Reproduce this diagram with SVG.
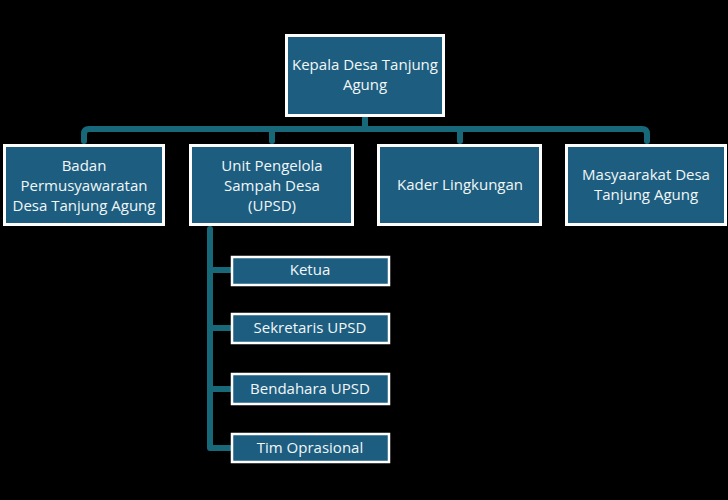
<svg xmlns="http://www.w3.org/2000/svg" width="728" height="500" viewBox="0 0 728 500">
<style>
.box{fill:#1d5e80;stroke:#ffffff;stroke-width:3}
.cbox{fill:#1d5e80;stroke:#ffffff;stroke-width:2.5}
.t{font-family:"Open Sans","Noto Sans",sans-serif;font-size:15px;fill:#f2f6f8;text-anchor:middle}
.c{fill:none;stroke:#17697a;stroke-width:6;stroke-linejoin:round;stroke-linecap:round}
</style>
<rect width="728" height="500" fill="#000000"/>
<g id="connectors">
<path class="c" d="M365,118 V129"/>
<path class="c" d="M84,141 V134 Q84,129 89,129 H642 Q647,129 647,134 V141"/>
<path class="c" d="M272,129 V141"/>
<path class="c" d="M460,129 V141"/>
<path class="c" d="M210,229 V448 H230"/>
<path class="c" d="M210,270 H230 M210,328 H230 M210,389 H230"/>
</g>
<g id="n_kepala">
<rect class="box" x="286.5" y="35.5" width="157" height="80"/>
<text class="t" x="365" y="70">Kepala Desa Tanjung</text>
<text class="t" x="365" y="90">Agung</text>
</g>
<g id="n_bpd">
<rect class="box" x="4.5" y="145.5" width="159" height="79"/>
<text class="t" x="84" y="171">Badan</text>
<text class="t" x="84" y="191">Permusyawaratan</text>
<text class="t" x="84" y="211">Desa Tanjung Agung</text>
</g>
<g id="n_upsd">
<rect class="box" x="190.5" y="145.5" width="162" height="79"/>
<text class="t" x="272" y="171">Unit Pengelola</text>
<text class="t" x="272" y="191">Sampah Desa</text>
<text class="t" x="272" y="211">(UPSD)</text>
</g>
<g id="n_kader">
<rect class="box" x="378.5" y="145.5" width="162" height="79"/>
<text class="t" x="460" y="190">Kader Lingkungan</text>
</g>
<g id="n_masyarakat">
<rect class="box" x="566.5" y="145.5" width="159" height="79"/>
<text class="t" x="646" y="180">Masyaarakat Desa</text>
<text class="t" x="646" y="200">Tanjung Agung</text>
</g>
<g id="n_ketua">
<rect class="cbox" x="232" y="257" width="157" height="28"/>
<text class="t" x="310" y="275">Ketua</text>
</g>
<g id="n_sekretaris">
<rect class="cbox" x="232" y="314" width="157" height="29"/>
<text class="t" x="310" y="333">Sekretaris UPSD</text>
</g>
<g id="n_bendahara">
<rect class="cbox" x="232" y="374" width="157" height="30"/>
<text class="t" x="310" y="394">Bendahara UPSD</text>
</g>
<g id="n_tim">
<rect class="cbox" x="232" y="434" width="157" height="28"/>
<text class="t" x="310" y="453">Tim Oprasional</text>
</g>
</svg>
